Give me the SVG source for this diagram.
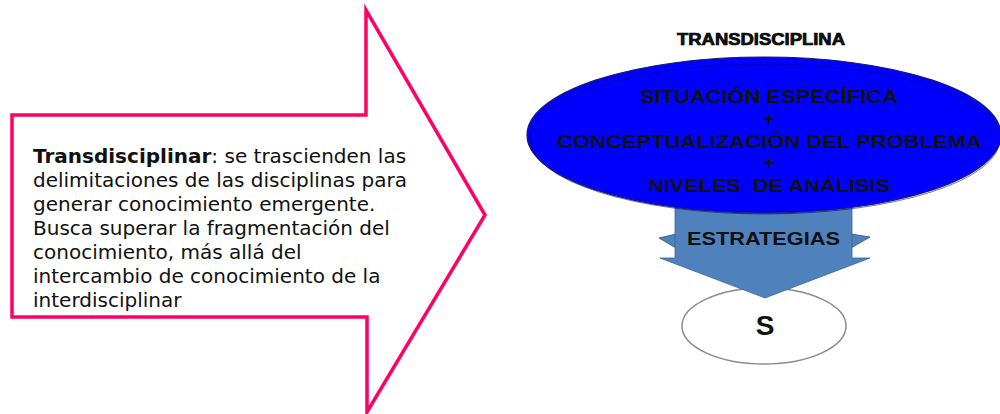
<svg xmlns="http://www.w3.org/2000/svg" width="1000" height="414" viewBox="0 0 1000 414">
  <style>
    .body { font-family: "DejaVu Sans", Verdana, sans-serif; font-size: 20px; fill: #111; }
    .hd { font-family: "Liberation Sans", Arial, sans-serif; font-weight: bold; fill: #111; text-anchor: middle; }
    .ell { font-size: 19px; }
  </style>
  <rect width="1000" height="414" fill="#ffffff"/>

  <g id="node-transdisciplinar">
    <path d="M12,115 L366,115 L366,10 L485,215 L367,412 L367,317 L12,317 Z" fill="#ffffff" stroke="#FF0066" stroke-width="3.5" stroke-linejoin="miter"/>
    <text class="body">
      <tspan x="33" y="163"><tspan font-weight="bold">Transdisciplinar</tspan>: se trascienden las</tspan>
      <tspan x="33" y="187">delimitaciones de las disciplinas para</tspan>
      <tspan x="33" y="211">generar conocimiento emergente.</tspan>
      <tspan x="33" y="235">Busca superar la fragmentación del</tspan>
      <tspan x="33" y="259">conocimiento, más allá del</tspan>
      <tspan x="33" y="283">intercambio de conocimiento de la</tspan>
      <tspan x="33" y="307">interdisciplinar</tspan>
    </text>
  </g>

  <g id="node-title">
    <text class="hd" x="761" y="45" font-size="16" font-weight="900" stroke="#000" stroke-width="0.7" textLength="168" lengthAdjust="spacingAndGlyphs">TRANSDISCIPLINA</text>
  </g>

  <g id="node-s">
    <ellipse cx="764" cy="326" rx="82" ry="38" fill="#ffffff" stroke="#8a8a8a" stroke-width="1.5"/>
    <text class="hd" x="765" y="335" font-size="28">S</text>
  </g>

  <g id="connectors">
    <g id="arrow-estrategias">
      <polygon points="659,238 676,234 676,248" fill="#4F81BD" stroke="#2f4f75" stroke-width="0.8"/>
      <polygon points="851,234 870,237 851,248" fill="#4F81BD" stroke="#2f4f75" stroke-width="0.8"/>
      <polygon points="675,200 852,200 852,258 870,258 765,298 660,258 675,258" fill="#4F81BD" stroke="#3a6595" stroke-width="0.8"/>
      <text class="hd" x="763.5" y="245" font-size="18" textLength="153" lengthAdjust="spacingAndGlyphs">ESTRATEGIAS</text>
    </g>
  </g>

  <g id="node-main">
    <ellipse cx="764" cy="135" rx="237" ry="78" fill="#0000FF" stroke="#1a1a66" stroke-width="1.2"/>
    <ellipse cx="765" cy="139" rx="235" ry="75" fill="none" stroke="#000080" stroke-width="0.8" opacity="0.7"/>
    <text class="hd ell" x="769" y="103" textLength="258" lengthAdjust="spacingAndGlyphs">SITUACIÓN ESPECÍFICA</text>
    <text class="hd ell" x="769" y="125">+</text>
    <text class="hd ell" x="769.5" y="148" textLength="425" lengthAdjust="spacingAndGlyphs">CONCEPTUALIZACIÓN DEL PROBLEMA</text>
    <text class="hd ell" x="769" y="169">+</text>
    <text class="hd ell" x="769" y="192" textLength="242" lengthAdjust="spacingAndGlyphs">NIVELES&#160; DE ANÁLISIS</text>
  </g>
</svg>
